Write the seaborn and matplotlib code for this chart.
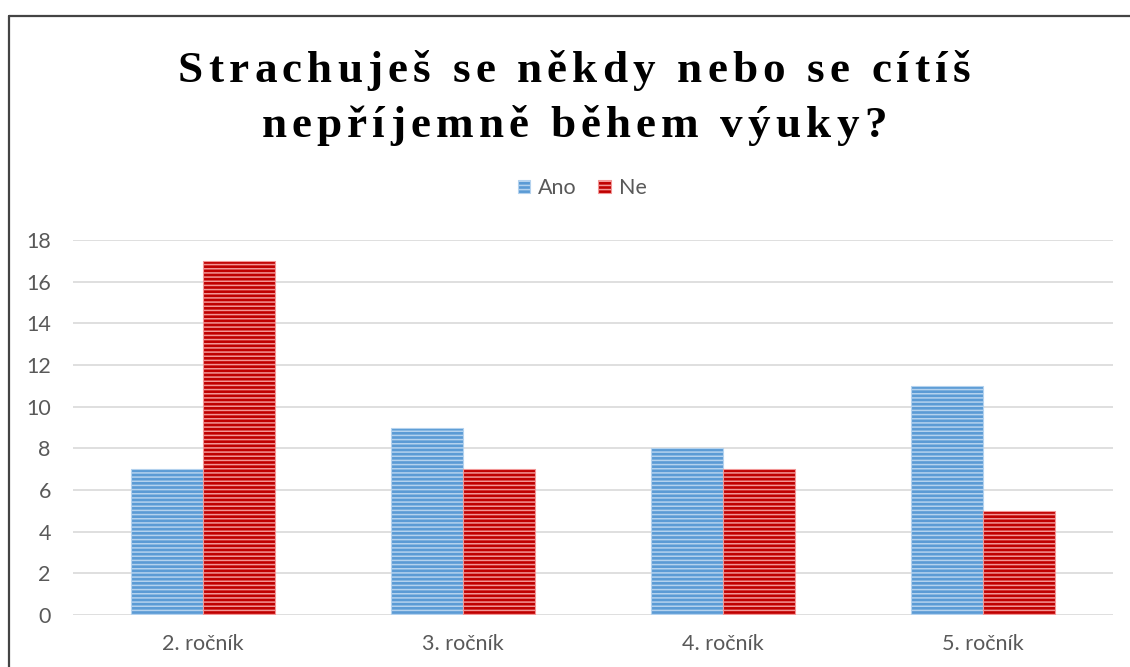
import matplotlib
matplotlib.use('Agg')
import matplotlib.pyplot as plt
import seaborn as sns
import pandas as pd
from matplotlib.patches import Patch
from matplotlib.lines import Line2D
from matplotlib.font_manager import FontProperties

# Data.
categories = ['2. ročník', '3. ročník', '4. ročník', '5. ročník']
ano = [7, 9, 8, 11]
ne = [17, 7, 7, 5]
series_names = ['Ano', 'Ne']
title_lines = ['Strachuješ se někdy nebo se cítíš', 'nepříjemně během výuky?']

face_colors = ['#5B9BD5', '#C00000']
stripe_colors = ['#B4D2EE', '#F29696']
label_color = '#595959'

df = pd.DataFrame({
    'rocnik': categories * 2,
    'pocet': ano + ne,
    'odpoved': [series_names[0]] * len(categories) + [series_names[1]] * len(categories),
})

sns.set_style('white')
plt.rcParams['font.family'] = ['Lato', 'DejaVu Sans']
plt.rcParams['hatch.linewidth'] = 1.1

fig = plt.figure(figsize=(11.3, 6.67), dpi=100)
ax = fig.add_axes([73 / 1130, 1 - 615 / 667, 1040 / 1130, 375 / 667])

sns.barplot(data=df, x='rocnik', y='pocet', hue='odpoved', palette=face_colors,
            width=0.554, ax=ax, legend=False, saturation=1)

for cont, ec in zip(ax.containers, stripe_colors):
    for bar in cont:
        bar.set_hatch('----')
        bar.set_edgecolor(ec)
        bar.set_linewidth(0.8)

ax.set_ylim(0, 18)
ax.set_xlim(-0.5, 3.5)
ax.set_yticks(range(0, 19, 2))
ax.yaxis.grid(True, color='#d9d9d9', linewidth=1.2)
ax.set_axisbelow(True)
for s in ax.spines.values():
    s.set_visible(False)
ax.tick_params(axis='both', length=0, labelsize=15.5, labelcolor=label_color)
ax.tick_params(axis='y', pad=16)
ax.tick_params(axis='x', pad=14)
ax.set_xlabel('')
ax.set_ylabel('')

# Legend above the plot.
handles = [Patch(facecolor=fc, edgecolor=ec, hatch='----', linewidth=0.8, label=n)
           for fc, ec, n in zip(face_colors, stripe_colors, series_names)]
leg = fig.legend(handles=handles, loc='center', bbox_to_anchor=(582 / 1130, 1 - 188 / 667),
                 ncol=2, frameon=False, fontsize=15.5, handlelength=0.6, handleheight=0.6,
                 handletextpad=0.35, columnspacing=1.0)
for t in leg.get_texts():
    t.set_color(label_color)

# Title with wide letter spacing, drawn char by char.
fig.canvas.draw()
renderer = fig.canvas.get_renderer()
fp = FontProperties(family=['Liberation Serif', 'DejaVu Serif'], weight='bold', size=32.5)


def text_w(s):
    return renderer.get_text_width_height_descent(s, fp, ismath=False)[0]


bar_w = text_w('|')
track = (792 - text_w(title_lines[0])) / (len(title_lines[0]) - 1)

for line, base_y in zip(title_lines, [82, 137]):
    total = text_w(line) + track * (len(line) - 1)
    x0 = 574 - total / 2
    for i, ch in enumerate(line):
        if ch == ' ':
            continue
        xp = x0 + (text_w(line[:i] + '|') - bar_w if i > 0 else 0) + track * i
        fig.text(xp / 1130, 1 - base_y / 667, ch, fontproperties=fp, color='black',
                 ha='left', va='baseline')

# Frame lines at top and left.
fig.add_artist(Line2D([8.5 / 1130, 1.02], [1 - 15.5 / 667] * 2, color='#444444', linewidth=1.6))
fig.add_artist(Line2D([8.5 / 1130] * 2, [-0.02, 1 - 15.5 / 667], color='#444444', linewidth=1.6))

fig.savefig('out.png', dpi=100)
